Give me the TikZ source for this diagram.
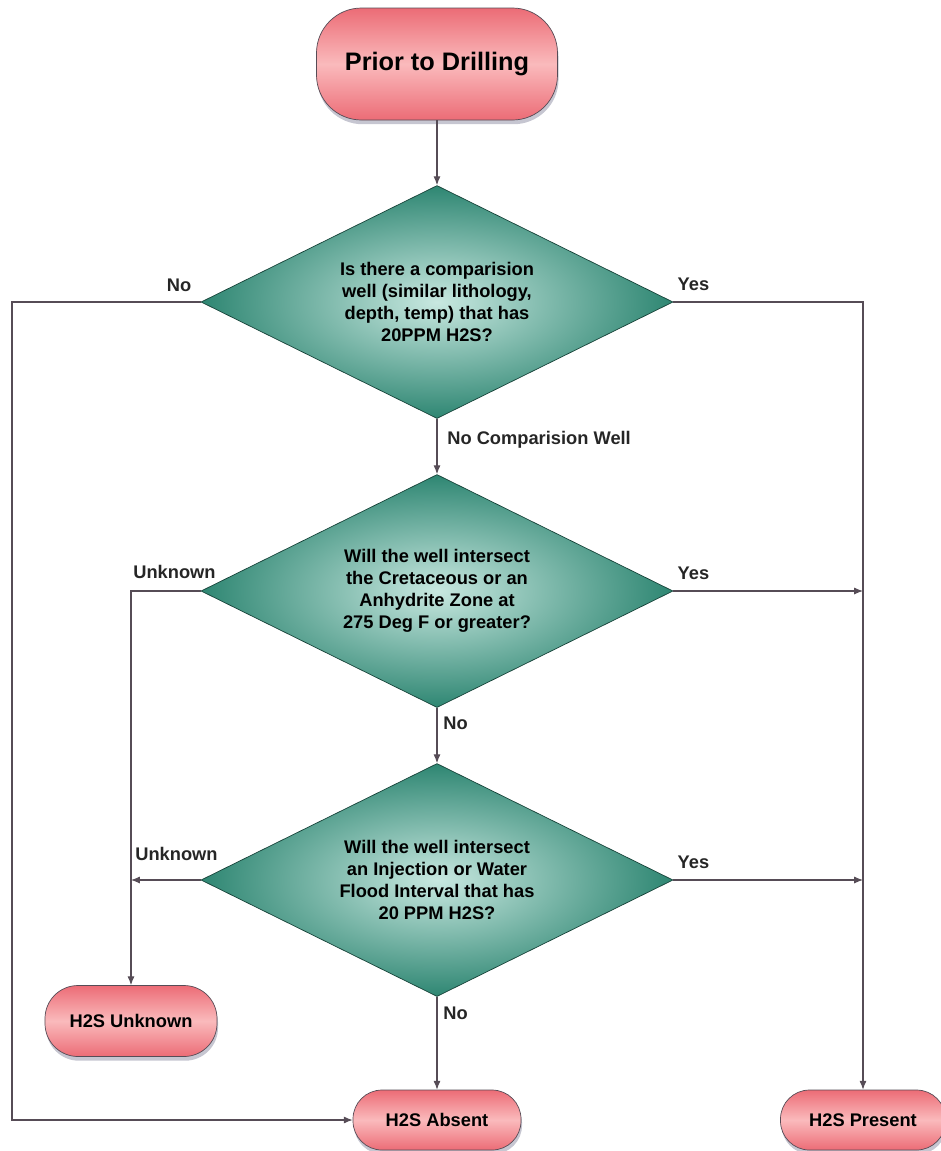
\documentclass[tikz,border=0pt]{standalone}
\usepackage{fontspec}
\setmainfont{Liberation Sans}
\usepackage{tikz}
\usetikzlibrary{shapes}
\usetikzlibrary {arrows.meta}
\usetikzlibrary {shadows}
\usetikzlibrary {positioning}
\definecolor{rosa}{RGB}{236,108,118}
\definecolor{rosahell}{RGB}{250,186,188}
\definecolor{petrol}{RGB}{46,134,114}
\definecolor{petrolhell}{RGB}{200,232,224}
\definecolor{strich}{RGB}{86,76,86}
\tikzset{kapsel/.style = {
shape=rectangle, rounded corners=0.58cm, draw=strich, thin, top color=rosa, bottom color=rosa, middle color=rosahell,
font=\bfseries\fontsize{10.4}{12.5}\selectfont,
drop shadow={shadow xshift=0.6pt, shadow yshift=-2.4pt, opacity=0.45, fill=blue!20!black!50}
}}
\tikzset{raute/.style = {
shape=diamond, aspect=2, inner sep=0pt, minimum width=9.44cm, minimum height=4.66cm,
draw=petrol!50!black, thin, inner color=petrolhell, outer color=petrol, align=center,
font=\bfseries\fontsize{10.4}{12.5}\selectfont
}}
\tikzset{pfeil/.style = {-{Latex[length=5pt,width=4pt]}, draw=strich, line width=0.6pt}}
\tikzset{beschr/.style = {font=\bfseries\fontsize{10.4}{12.5}\selectfont, inner sep=0pt, text=black!85}}

\begin{document}
\begin{tikzpicture}
\useasboundingbox (0,0) rectangle (18.82,-23.02);

\node[kapsel,minimum width=4.82cm,minimum height=2.24cm,rounded corners=0.9cm,font=\bfseries\fontsize{14.4}{17}\selectfont] (start) at (8.74,-1.28){Prior to Drilling};

\node[raute] (frage1) at (8.74,-6.04){Is there a comparision\\well (similar lithology,\\depth, temp) that has\\20PPM H2S?};
\node[raute] (frage2) at (8.74,-11.82){Will the well intersect\\the Cretaceous or an\\Anhydrite Zone at\\275 Deg F or greater?};
\node[raute] (frage3) at (8.74,-17.6){Will the well intersect\\an Injection or Water\\Flood Interval that has\\20 PPM H2S?};

\node[kapsel,minimum width=3.44cm,minimum height=1.42cm,rounded corners=0.66cm] (unbekannt) at (2.62,-20.42){H2S Unknown};
\node[kapsel,minimum width=3.36cm,minimum height=1.2cm] (fehlt) at (8.74,-22.4){H2S Absent};
\node[kapsel,minimum width=3.3cm,minimum height=1.2cm] (vorhanden) at (17.26,-22.4){H2S Present};

\coordinate (knick1) at (0.24,-6.04);
\coordinate (knick2) at (frage2.west -| unbekannt.north);
\coordinate (knick3) at (frage3.west -| unbekannt.north);

\draw [pfeil] (start) -- (frage1);
\draw [pfeil] (frage1.west) -- (knick1) |- (fehlt.west);
\draw [pfeil] (frage1.east) -| (vorhanden.north);
\draw [pfeil] (frage1) -- (frage2);
\draw [pfeil] (frage2.east) -- (frage2.east -| vorhanden.north);
\draw [pfeil] (frage2.west) -- (knick2) -- (unbekannt.north);
\draw [pfeil] (frage2) -- (frage3);
\draw [pfeil] (frage3.east) -- (frage3.east -| vorhanden.north);
\draw [pfeil] (frage3.west) -- (knick3);
\draw [pfeil] (frage3) -- (fehlt);

\node[beschr,above left=0.2cm and 0.18cm of frage1.west] (nein1){No};
\node[beschr,above right=0.22cm and 0.08cm of frage1.east] (ja1){Yes};
\node[beschr,below right=0.24cm and 0.2cm of frage1.south] (keinvergleich){No Comparision Well};
\node[beschr,above right=0.24cm and 0.04cm of knick2] (unbek2){Unknown};
\node[beschr,above right=0.22cm and 0.08cm of frage2.east] (ja2){Yes};
\node[beschr,below right=0.18cm and 0.12cm of frage2.south] (nein2){No};
\node[beschr,above right=0.38cm and 0.08cm of knick3] (unbek3){Unknown};
\node[beschr,above right=0.22cm and 0.08cm of frage3.east] (ja3){Yes};
\node[beschr,below right=0.2cm and 0.12cm of frage3.south] (nein3){No};

\end{tikzpicture}
\end{document}
